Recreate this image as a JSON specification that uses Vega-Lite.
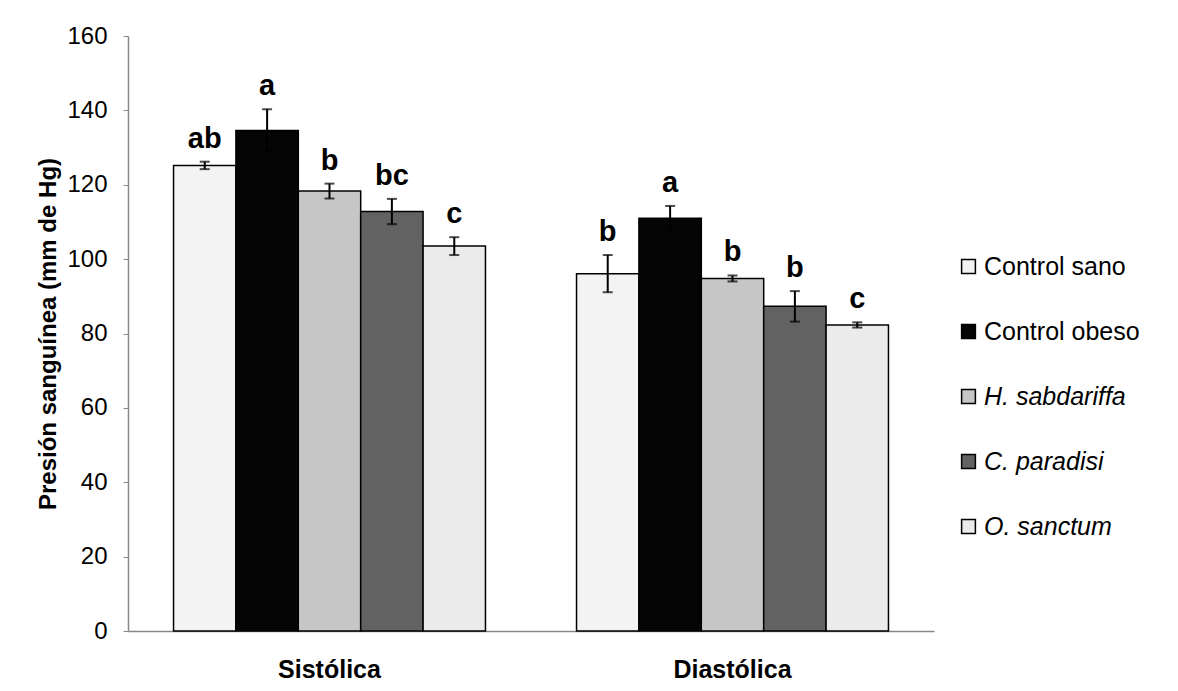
{
  "$schema": "https://vega.github.io/schema/vega-lite/v6.json",
  "autosize": "none",
  "width": 806,
  "height": 595,
  "padding": {"left": 128, "top": 36, "right": 244, "bottom": 60},
  "background": "white",
  "config": {
    "font": "Liberation Sans",
    "view": {"stroke": null}
  },
  "data": {
    "values": [
      {"grupo": "Sistólica", "tratamiento": "Control sano", "media": 125.2, "ee": 1.0, "letra": "ab"},
      {"grupo": "Sistólica", "tratamiento": "Control obeso", "media": 134.6, "ee": 5.7, "letra": "a"},
      {"grupo": "Sistólica", "tratamiento": "H. sabdariffa", "media": 118.3, "ee": 2.0, "letra": "b"},
      {"grupo": "Sistólica", "tratamiento": "C. paradisi", "media": 112.8, "ee": 3.4, "letra": "bc"},
      {"grupo": "Sistólica", "tratamiento": "O. sanctum", "media": 103.5, "ee": 2.4, "letra": "c"},
      {"grupo": "Diastólica", "tratamiento": "Control sano", "media": 96.1, "ee": 5.0, "letra": "b"},
      {"grupo": "Diastólica", "tratamiento": "Control obeso", "media": 111.0, "ee": 3.3, "letra": "a"},
      {"grupo": "Diastólica", "tratamiento": "H. sabdariffa", "media": 94.8, "ee": 0.8, "letra": "b"},
      {"grupo": "Diastólica", "tratamiento": "C. paradisi", "media": 87.3, "ee": 4.1, "letra": "b"},
      {"grupo": "Diastólica", "tratamiento": "O. sanctum", "media": 82.3, "ee": 0.7, "letra": "c"}
    ]
  },
  "transform": [
    {"calculate": "datum.media - datum.ee", "as": "lo"},
    {"calculate": "datum.media + datum.ee", "as": "hi"}
  ],
  "encoding": {
    "x": {
      "field": "grupo",
      "type": "nominal",
      "sort": ["Sistólica", "Diastólica"],
      "scale": {"paddingInner": 0.226, "paddingOuter": 0.113},
      "axis": {
        "title": null,
        "labelAngle": 0,
        "labelFont": "Liberation Sans",
        "labelFontSize": 25,
        "labelFontWeight": "bold",
        "labelColor": "black",
        "labelPadding": 26,
        "ticks": false,
        "domainColor": "#888888",
        "domainWidth": 1.5
      }
    },
    "xOffset": {
      "field": "tratamiento",
      "type": "nominal",
      "sort": ["Control sano", "Control obeso", "H. sabdariffa", "C. paradisi", "O. sanctum"],
      "scale": {"paddingInner": 0, "paddingOuter": 0}
    }
  },
  "layer": [
    {
      "mark": {"type": "bar", "stroke": "black", "strokeWidth": 1.5},
      "encoding": {
        "y": {
          "field": "media",
          "type": "quantitative",
          "scale": {"domain": [0, 160]},
          "axis": {
            "title": "Presión sanguínea (mm de Hg)",
            "titleFont": "Liberation Sans",
            "titleFontSize": 24,
            "titleFontWeight": "bold",
            "titleColor": "black",
            "titlePadding": 6,
            "values": [0, 20, 40, 60, 80, 100, 120, 140, 160],
            "grid": false,
            "labelFont": "Liberation Sans",
            "labelFontSize": 24,
            "labelColor": "black",
            "labelPadding": 16,
            "tickSize": 5,
            "tickColor": "#888888",
            "domainColor": "#888888",
            "domainWidth": 1.5
          }
        },
        "fill": {
          "field": "tratamiento",
          "type": "nominal",
          "sort": ["Control sano", "Control obeso", "H. sabdariffa", "C. paradisi", "O. sanctum"],
          "scale": {
            "domain": ["Control sano", "Control obeso", "H. sabdariffa", "C. paradisi", "O. sanctum"],
            "range": ["#f3f3f3", "#050505", "#c6c6c6", "#626262", "#ebebeb"]
          },
          "legend": {
            "title": null,
            "orient": "none",
            "legendX": 828,
            "legendY": 218,
            "symbolType": "square",
            "symbolSize": 190,
            "symbolStrokeColor": "black",
            "symbolStrokeWidth": 1.5,
            "labelFont": "Liberation Sans",
            "labelFontSize": 25,
            "labelColor": "black",
            "labelOffset": 3,
            "rowPadding": 39,
            "labelLimit": 300,
            "encode": {
              "labels": {
                "update": {
                  "fontStyle": {"signal": "indexof(['H. sabdariffa','C. paradisi','O. sanctum'], datum.label) >= 0 ? 'italic' : 'normal'"}
                }
              }
            }
          }
        }
      }
    },
    {
      "mark": {"type": "rule", "color": "black", "strokeWidth": 2},
      "encoding": {
        "y": {"field": "lo", "type": "quantitative"},
        "y2": {"field": "hi"}
      }
    },
    {
      "mark": {"type": "tick", "color": "black", "thickness": 2, "size": 10},
      "encoding": {
        "y": {"field": "lo", "type": "quantitative"}
      }
    },
    {
      "mark": {"type": "tick", "color": "black", "thickness": 2, "size": 10},
      "encoding": {
        "y": {"field": "hi", "type": "quantitative"}
      }
    },
    {
      "mark": {"type": "text", "font": "Liberation Sans", "fontSize": 29, "fontWeight": "bold", "baseline": "alphabetic", "dy": -14, "color": "black"},
      "encoding": {
        "y": {"field": "hi", "type": "quantitative"},
        "text": {"field": "letra"}
      }
    }
  ]
}
